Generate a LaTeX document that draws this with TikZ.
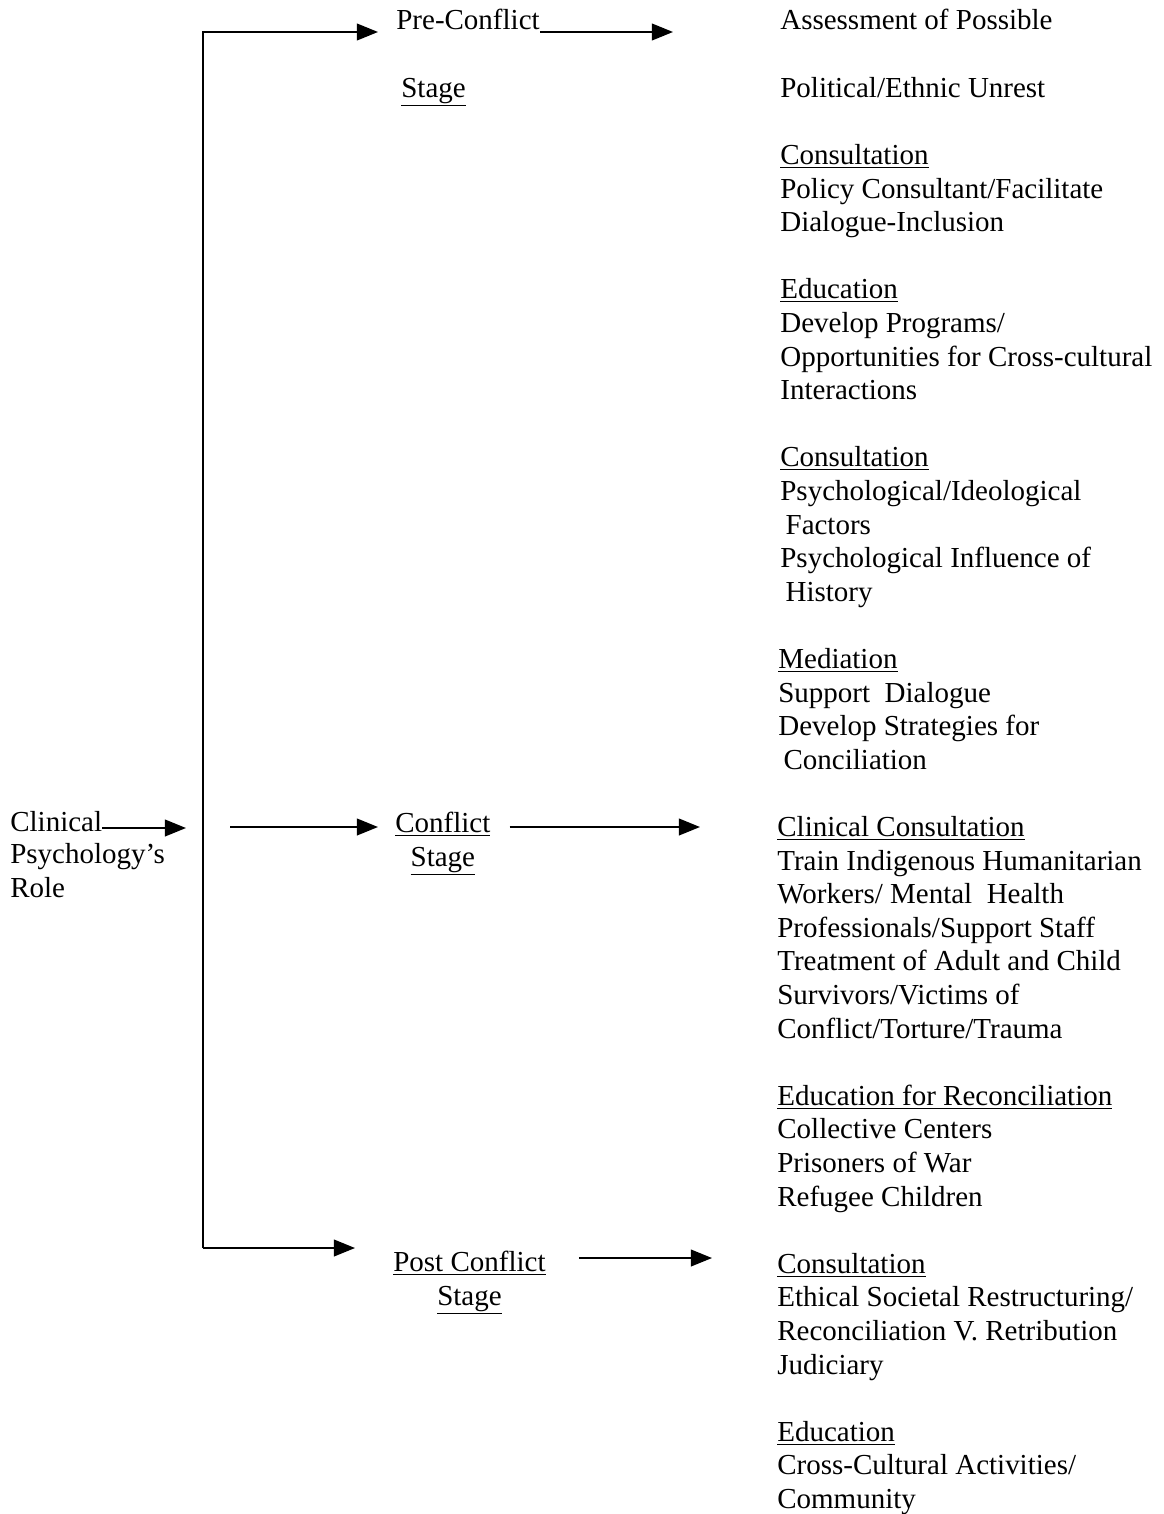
\documentclass[tikz,border=0pt]{standalone}
\usepackage{fontspec}
\setmainfont{Liberation Serif}
\usetikzlibrary{arrows.meta,positioning,calc}
\tikzset{
  >={Triangle[length=12pt,width=9.5pt]},
  lbl/.style={inner sep=0pt,anchor=base west},
  stagelbl/.style={inner sep=0pt,anchor=base west,align=center},
  item/.style={inner sep=0pt,anchor=base west,align=left},
  flow/.style={->,line width=1pt},
}
\newcommand{\ind}{\hspace*{3pt}}
\begin{document}
\begin{tikzpicture}[x=0.02cm,y=-0.02cm,
  every node/.append style={font=\fontsize{16.5}{19.1}\selectfont}]
  \useasboundingbox (0,0) rectangle (1163,1514);
  % links (base = last line)
  \node[lbl] (clin) at (10,831) {Clinical};
  \node[item] (role) at (10,897) {Psychology's\\Role};
  % stadier
  \node[lbl] (pre) at (396,30) {Pre-Conflict};
  \node[lbl] (prestage) at (401,97) {\underline{Stage}};
  \node[stagelbl] (conf) at (395,866) {\underline{Conflict}\\\underline{Stage}};
  \node[stagelbl] (post) at (393,1305) {\underline{Post Conflict}\\\underline{Stage}};
  % roller
  \node[item] (assess) at (780,30) {Assessment of Possible};
  \node[item] (unrest) at (780,97.2) {Political/Ethnic Unrest};
  \node[item] (cons1) at (780,231.6) {\underline{Consultation}\\Policy Consultant/Facilitate\\Dialogue-Inclusion};
  \node[item] (edu1) at (780,399.6) {\underline{Education}\\Develop Programs/\\Opportunities for Cross-cultural\\Interactions};
  \node[item] (cons2) at (780,601.2) {\underline{Consultation}\\Psychological/Ideological\\\ind Factors\\Psychological Influence of\\\ind History};
  \node[item] (med) at (778,769.2) {\underline{Mediation}\\Support\ \ Dialogue\\Develop Strategies for\\\ind Conciliation};
  \node[item] (clincons) at (777,1038) {\underline{Clinical Consultation}\\Train Indigenous Humanitarian\\Workers/ Mental\ \ Health\\Professionals/Support Staff\\Treatment of Adult and Child\\Survivors/Victims of\\Conflict/Torture/Trauma};
  \node[item] (edurec) at (777,1206) {\underline{Education for Reconciliation}\\Collective Centers\\Prisoners of War\\Refugee Children};
  \node[item] (cons3) at (777,1374) {\underline{Consultation}\\Ethical Societal Restructuring/\\Reconciliation V. Retribution\\Judiciary};
  \node[item] (edu2) at (777,1508.4) {\underline{Education}\\Cross-Cultural Activities/\\Community};
  % pilar
  \coordinate (ttop) at (203,32);
  \coordinate (tbot) at (203,1248);
  \coordinate (tmid) at (203,828);
  \coordinate (confin) at (230,827);
  \coordinate (pretip) at (673,32);
  \coordinate (conftip) at (700,827);
  \coordinate (posttip) at (712,1258);
  \draw[flow,shorten >=17pt*0.569] (clin.base east) ++(0,-3) coordinate (clinout) -- (clinout -| tmid);
  \draw[flow,shorten >=18pt*0.569] (tbot) -- (ttop) -- (ttop -| pre.west);
  \draw[flow,shorten >=38pt*0.569] (tbot) -- (tbot -| post.west);
  \draw[flow,shorten >=17pt*0.569] (confin) -- (confin -| conf.west);
  \draw[flow] (pretip -| pre.east) -- (pretip);
  \draw[flow] (confin -| conf.east) ++(19,0) coordinate (confout) -- (conftip);
  \draw[flow] (post.east |- posttip) ++(33,0) coordinate (postout) -- (posttip);
\end{tikzpicture}
\end{document}
